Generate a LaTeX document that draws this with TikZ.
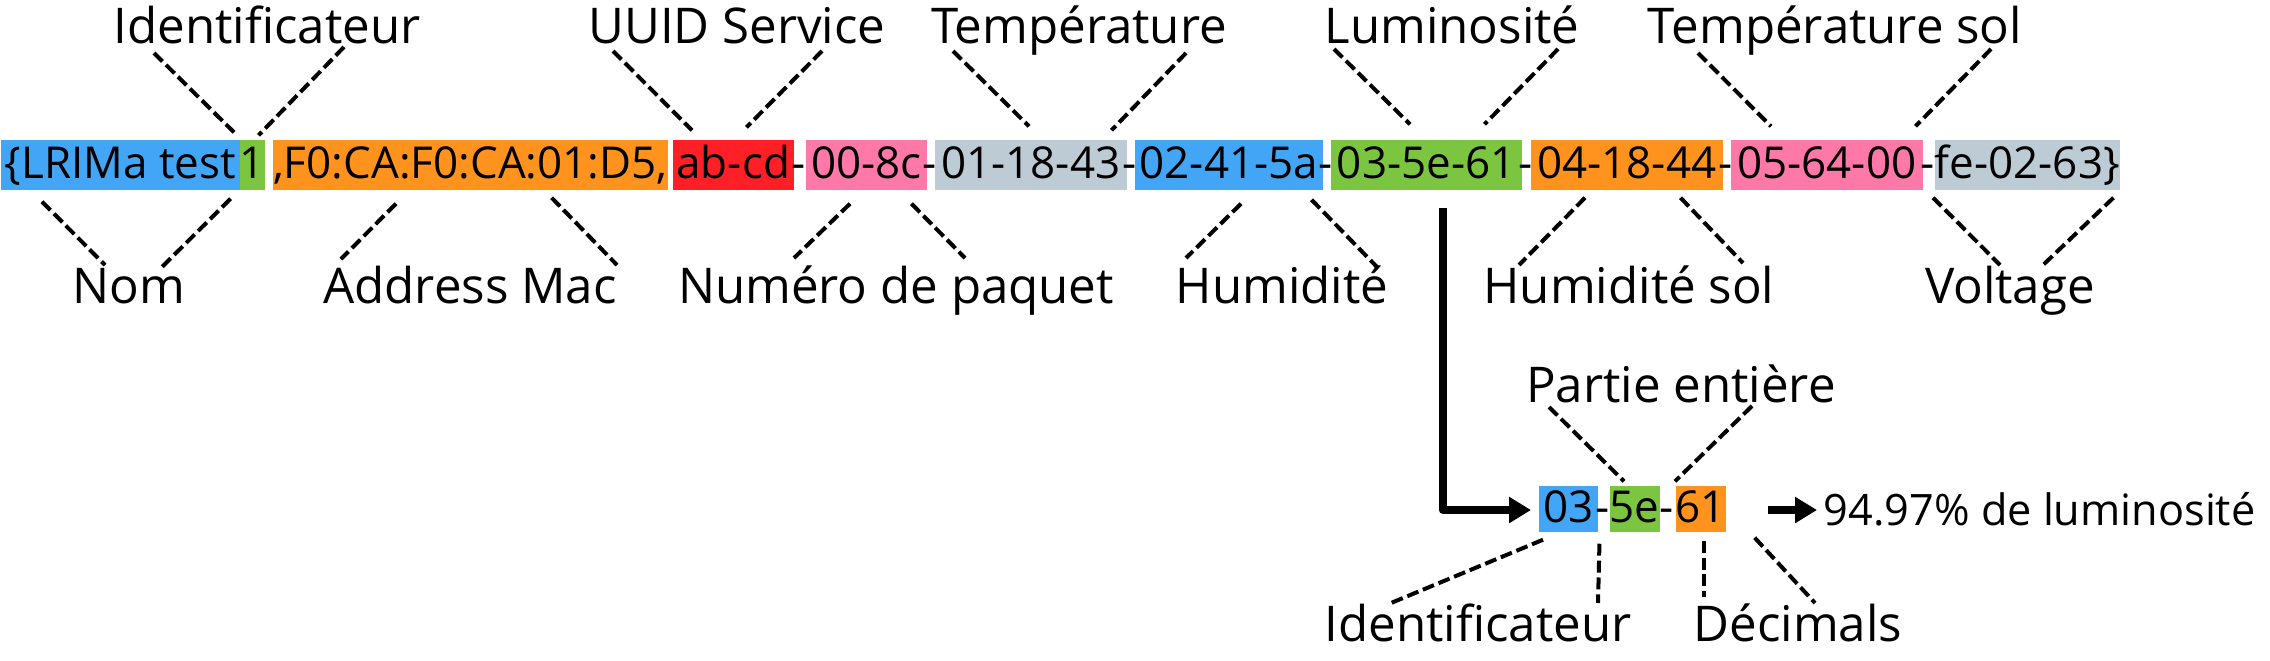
\documentclass[tikz,border=0pt]{standalone}
\usepackage{fontspec}
\setmainfont{Open Sans}
\usetikzlibrary{arrows.meta}
\definecolor{segblue}{HTML}{42A5F5}
\definecolor{seggreen}{HTML}{7CC540}
\definecolor{segorange}{HTML}{FF931E}
\definecolor{segred}{HTML}{FF1F26}
\definecolor{segpink}{HTML}{FF79A8}
\definecolor{seggrey}{HTML}{BDCBD5}
\tikzset{seg/.style={anchor=west, inner sep=0, minimum height=0.5cm, text height=0.33cm, text depth=0.07cm, font=\fontsize{12.5}{15}\selectfont},
  hyph/.style={inner sep=0, text height=0.33cm, text depth=0.07cm, font=\fontsize{12.5}{15}\selectfont},
  lbl/.style={anchor=base, inner sep=0, font=\fontsize{14}{17}\selectfont},
  dline/.style={dash pattern=on 3.4pt off 1.4pt, line width=0.04cm},
  bigarrow/.style={line width=0.08cm, line join=round, -{Triangle[length=0.22cm,width=0.25cm]}}}

\begin{document}
\begin{tikzpicture}[x=0.01cm, y=-0.01cm, >=latex]
\useasboundingbox (0,0) rectangle (2270,660);
\node[seg, fill=segblue, minimum width=2.39cm] (nom) at (0,165) {\{LRIMa test\ };
\node[seg, fill=seggreen, minimum width=0.24cm] (ident) at (239,165) {1};
\node[seg, fill=segorange, minimum width=3.95cm] (mac) at (272,165) {,F0:CA:F0:CA:01:D5,};
\node[seg, fill=segred, minimum width=1.21cm] (uuid) at (672,165) {ab-cd};
\node[seg, fill=segpink, minimum width=1.21cm] (paquet) at (805,165) {00-8c};
\node[seg, fill=seggrey, minimum width=1.92cm] (temp) at (934,165) {01-18-43};
\node[seg, fill=segblue, minimum width=1.88cm] (hum) at (1134,165) {02-41-5a};
\node[seg, fill=seggreen, minimum width=1.91cm] (lum) at (1330,165) {03-5e-61};
\node[seg, fill=segorange, minimum width=1.92cm] (humsol) at (1530,165) {04-18-44};
\node[seg, fill=segpink, minimum width=1.92cm] (tsol) at (1730,165) {05-64-00};
\node[seg, fill=seggrey, minimum width=1.83cm] (volt) at (1934,165) {fe-02-63\}};
    \node[hyph] (h1) at (799,165) {-};
    \node[hyph] (h2) at (930,165) {-};
    \node[hyph] (h3) at (1130,165) {-};
    \node[hyph] (h4) at (1326,165) {-};
    \node[hyph] (h5) at (1525.5,165) {-};
    \node[hyph] (h6) at (1726,165) {-};
    \node[hyph] (h7) at (1928,165) {-};

\node[lbl] (lidt) at (267,43) {Identificateur};
\node[lbl] (luuid) at (737,43) {UUID Service};
\node[lbl] (ltemp) at (1079,43) {Température};
\node[lbl] (llum) at (1452,43) {Luminosité};
\node[lbl] (ltsol) at (1835,43) {Température sol};
\node[lbl] (lnom) at (129,303) {Nom};
\node[lbl] (lmac) at (470,303) {Address Mac};
\node[lbl] (lpaq) at (896,303) {Numéro de paquet};
\node[lbl] (lhum) at (1282,303) {Humidité};
\node[lbl] (lhsol) at (1629,303) {Humidité sol};
\node[lbl] (lvolt) at (2010,303) {Voltage};

    \draw[dline] ([shift={(-113,10)}]lidt.base) -- ([shift={(-5,-7)}]ident.north west);
    \draw[dline] ([shift={(77,4)}]lidt.base) -- ([shift={(-7,-4)}]ident.north east);
    \draw[dline] ([shift={(-124,8)}]luuid.base) -- ([shift={(20,-9)}]uuid.north west);
    \draw[dline] ([shift={(85,8)}]luuid.base) -- ([shift={(-48,-12)}]uuid.north east);
    \draw[dline] ([shift={(-126,8)}]ltemp.base) -- ([shift={(95,-13)}]temp.north west);
    \draw[dline] ([shift={(107,10)}]ltemp.base) -- ([shift={(-16,-9)}]temp.north east);
    \draw[dline] ([shift={(-118,6)}]llum.base) -- ([shift={(80,-15)}]lum.north west);
    \draw[dline] ([shift={(106,6)}]llum.base) -- ([shift={(-38,-15)}]lum.north east);
    \draw[dline] ([shift={(-137,10)}]ltsol.base) -- ([shift={(41,-13)}]tsol.north west);
    \draw[dline] ([shift={(156,6)}]ltsol.base) -- ([shift={(-8,-13)}]tsol.north east);

    \draw[dline] ([shift={(42,11)}]nom.south west) -- ([shift={(-24,-38)}]lnom.base);
    \draw[dline] ([shift={(-10,8)}]nom.south east) -- ([shift={(33,-36)}]lnom.base);
    \draw[dline] ([shift={(124,13)}]mac.south west) -- ([shift={(-129,-44)}]lmac.base);
    \draw[dline] ([shift={(-117,7)}]mac.south east) -- ([shift={(147,-38)}]lmac.base);
    \draw[dline] ([shift={(45,13)}]paquet.south west) -- ([shift={(-102,-45)}]lpaq.base);
    \draw[dline] ([shift={(-16,13)}]paquet.south east) -- ([shift={(69,-45)}]lpaq.base);
    \draw[dline] ([shift={(107,13)}]hum.south west) -- ([shift={(-96,-45)}]lhum.base);
    \draw[dline] ([shift={(-12,9)}]hum.south east) -- ([shift={(95,-36)}]lhum.base);
    \draw[dline] ([shift={(55,7)}]humsol.south west) -- ([shift={(-110,-38)}]lhsol.base);
    \draw[dline] ([shift={(-43,7)}]humsol.south east) -- ([shift={(114,-40)}]lhsol.base);
    \draw[dline] ([shift={(-1,7)}]volt.south west) -- ([shift={(-10,-38)}]lvolt.base);
    \draw[dline] ([shift={(-7,7)}]volt.south east) -- ([shift={(33,-38)}]lvolt.base);

\node[seg, fill=segblue, minimum width=0.59cm, minimum height=0.46cm] (s1) at (1538,509) {03};
\node[seg, fill=seggreen, minimum width=0.50cm, minimum height=0.46cm] (s2) at (1609,509) {5e};
\node[seg, fill=segorange, minimum width=0.47cm, minimum height=0.46cm] (s3) at (1675,509) {61};
    \node[hyph] (h8) at (1603,509) {-};
    \node[hyph] (h9) at (1667,509) {-};
\node[lbl] (lpart) at (1681,402) {Partie entière};
\node[lbl] (lidt2) at (1478,641) {Identificateur};
\node[lbl] (ldec) at (1798,641) {Décimals};
\node[anchor=west, inner xsep=0.06cm, inner ysep=0, text height=0.30cm, text depth=0cm, font=\fontsize{12.3}{15}\selectfont] (res) at (1817,510) {94.97\% de luminosité};

    \draw[bigarrow] ([shift={(16.5,17)}]lum.south) |- ([shift={(-7,1)}]s1.west);
    \draw[bigarrow] ([shift={(41,1)}]s3.east) -- (res.west);

    \draw[dline] ([shift={(-132,5)}]lpart.base) -- ([shift={(15,-4)}]s2.north west);
    \draw[dline] ([shift={(71,4)}]lpart.base) -- ([shift={(0,-4)}]s3.north west);
    \draw[dline] ([shift={(5,7)}]s1.south west) -- ([shift={(-87,-38)}]lidt2.base);
    \draw[dline] ([shift={(1,11)}]s1.south east) -- ([shift={(120,-38)}]lidt2.base);
    \draw[dline] ([shift={(29,8)}]s3.south west) -- ([shift={(-94,-44)}]ldec.base);
    \draw[dline] ([shift={(28,5)}]s3.south east) -- ([shift={(17,-38)}]ldec.base);
\end{tikzpicture}
\end{document}
